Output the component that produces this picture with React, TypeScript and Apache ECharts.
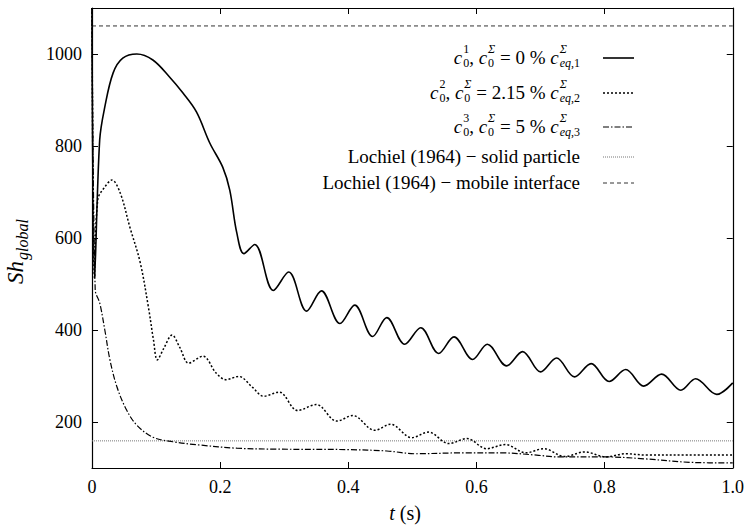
import React, { useEffect, useRef } from "react";
import * as echarts from "echarts";

const FONT = "'Liberation Serif', Tinos, 'Times New Roman', Times, 'Nimbus Roman', 'DejaVu Serif', serif";

// Series 1: c0^Σ = 0 %
const t1 = [0, 0.004, 0.012, 0.02, 0.033, 0.048, 0.07, 0.095, 0.121, 0.142, 0.163, 0.184, 0.204, 0.215, 0.226, 0.237, 0.254, 0.283, 0.307, 0.335, 0.358, 0.387, 0.41, 0.438, 0.46, 0.488, 0.513, 0.541, 0.565, 0.594, 0.617, 0.647, 0.672, 0.7, 0.725, 0.753, 0.779, 0.807, 0.833, 0.861, 0.889, 0.919, 0.942, 0.975, 1.0];
const sh1 = [1100, 513, 813, 885, 959, 991, 1000, 987, 950, 915, 874, 806, 754, 704, 611, 566, 586, 486, 526, 441, 485, 414, 454, 386, 427, 369, 405, 349, 385, 336, 369, 322, 353, 309, 339, 298, 327, 288, 314, 278, 304, 269, 294, 260, 285];

// Series 2: c0^Σ = 2.15 %
const t2 = [0, 0.004, 0.009, 0.02, 0.031, 0.044, 0.059, 0.075, 0.088, 0.096, 0.102, 0.112, 0.125, 0.137, 0.151, 0.173, 0.194, 0.209, 0.229, 0.25, 0.268, 0.292, 0.321, 0.35, 0.382, 0.407, 0.441, 0.466, 0.499, 0.525, 0.557, 0.585, 0.616, 0.645, 0.677, 0.705, 0.738, 0.769, 0.802, 0.833, 0.866, 0.93, 1.0];
const sh2 = [1100, 513, 683, 711, 726, 698, 624, 548, 450, 378, 335, 360, 389, 362, 328, 343, 306, 292, 299, 276, 256, 265, 225, 238, 202, 214, 182, 195, 166, 178, 153, 164, 142, 151, 133, 142, 125, 135, 124, 131, 128, 128, 128];

// Series 3: c0^Σ = 5 %
const t3 = [0, 0.005, 0.012, 0.02, 0.028, 0.039, 0.054, 0.07, 0.095, 0.126, 0.168, 0.226, 0.288, 0.399, 0.46, 0.505, 0.582, 0.638, 0.694, 0.727, 0.805, 0.861, 0.939, 1.0];
const sh3 = [1100, 487, 459, 400, 335, 276, 226, 193, 167, 157, 150, 143, 141, 140, 137, 131, 133, 133, 128, 124, 124, 120, 112, 111];

// Lochiel (1964) reference values
const shSolidParticle = 159;
const shMobileInterface = 1061;

const xTicks = [0, 0.2, 0.4, 0.6, 0.8, 1.0];
const yTicks = [200, 400, 600, 800, 1000];

const seriesNames = [
  "c0^1, c0^Σ = 0 % c^Σ_eq,1",
  "c0^2, c0^Σ = 2.15 % c^Σ_eq,2",
  "c0^3, c0^Σ = 5 % c^Σ_eq,3",
  "Lochiel (1964) − solid particle",
  "Lochiel (1964) − mobile interface",
];

const lineStyles: any[] = [
  { color: "#000", width: 1.6, type: "solid" },
  { color: "#000", width: 1.5, type: [2, 2] },
  { color: "#000", width: 1.2, type: [6, 2, 1.5, 2] },
  { color: "#777", width: 1, type: [1, 1] },
  { color: "#333", width: 1, type: [4, 3] },
];

type Part = { t: string; it?: boolean };
type Tok = Part | { sup: Part[]; sub: Part[] };
const N = (s: string): Part => ({ t: s });
const I = (s: string): Part => ({ t: s, it: true });

const legendEntries: Tok[][] = [
  [I("c"), { sup: [N("1")], sub: [N("0")] }, N(", "), I("c"), { sup: [I("Σ")], sub: [N("0")] }, N(" = 0 % "), I("c"), { sup: [I("Σ")], sub: [I("eq"), N(",1")] }],
  [I("c"), { sup: [N("2")], sub: [N("0")] }, N(", "), I("c"), { sup: [I("Σ")], sub: [N("0")] }, N(" = 2.15 % "), I("c"), { sup: [I("Σ")], sub: [I("eq"), N(",2")] }],
  [I("c"), { sup: [N("3")], sub: [N("0")] }, N(", "), I("c"), { sup: [I("Σ")], sub: [N("0")] }, N(" = 5 % "), I("c"), { sup: [I("Σ")], sub: [I("eq"), N(",3")] }],
  [N("Lochiel (1964) − solid particle")],
  [N("Lochiel (1964) − mobile interface")],
];

export default function App() {
  const ref = useRef<HTMLDivElement>(null);
  useEffect(() => {
    if (!ref.current) return;
    const chart = echarts.init(ref.current, null, { renderer: "svg" });

    const cv = document.createElement("canvas");
    const ctx = cv.getContext("2d")!;
    const measure = (s: string, size: number, it?: boolean) => {
      ctx.font = `${it ? "italic " : ""}${size}px ${FONT}`;
      return ctx.measureText(s).width;
    };
    const MAIN = 19;
    const SCR = 12;
    const TICK = 18;
    const textEl = (s: string, x: number, y: number, size: number, it?: boolean) => ({
      type: "text",
      x,
      y,
      style: {
        text: s,
        fontSize: size,
        fontFamily: FONT,
        fontStyle: it ? "italic" : "normal",
        fill: "#000",
        align: "left",
        verticalAlign: "middle",
      },
    });

    const rowY = [57, 92, 126, 156, 182];
    const textRight = 580;
    const sampleX1 = 603;
    const sampleX2 = 634;
    const graphics: any[] = [];
    legendEntries.forEach((entry, k) => {
      const widths = entry.map((tok: any) => {
        if (tok.sup) {
          const ws = tok.sup.reduce((a: number, p: Part) => a + measure(p.t, SCR, p.it), 0);
          const wb = tok.sub.reduce((a: number, p: Part) => a + measure(p.t, SCR, p.it), 0);
          return Math.max(ws, wb) + 1;
        }
        return measure(tok.t, MAIN, tok.it);
      });
      const total = widths.reduce((a, b) => a + b, 0);
      let x = textRight - total;
      const y = rowY[k];
      entry.forEach((tok: any, j) => {
        if (tok.sup) {
          let xs = x + 1;
          tok.sup.forEach((p: Part) => {
            graphics.push(textEl(p.t, xs, y - 8, SCR, p.it));
            xs += measure(p.t, SCR, p.it);
          });
          let xb = x + 1;
          tok.sub.forEach((p: Part) => {
            graphics.push(textEl(p.t, xb, y + 6, SCR, p.it));
            xb += measure(p.t, SCR, p.it);
          });
        } else {
          graphics.push(textEl(tok.t, x, y, MAIN, tok.it));
        }
        x += widths[j];
      });
      const ls = lineStyles[k];
      graphics.push({
        type: "line",
        shape: { x1: sampleX1, y1: y + 1, x2: sampleX2, y2: y + 1 },
        style: {
          stroke: ls.color,
          lineWidth: ls.width,
          lineDash: ls.type === "solid" ? null : ls.type,
        },
      });
    });

    // y-axis title: Sh_global (rotated)
    const wSh = measure("Sh", 23, true);
    graphics.push({
      type: "group",
      x: 15,
      y: 284,
      rotation: Math.PI / 2,
      children: [
        textEl("Sh", 0, 0, 23, true),
        textEl("global", wSh + 1, 7, 16, true),
      ],
    });
    // x-axis title: t (s)
    const wt = measure("t", 20, true);
    const wts = measure(" (s)", 20, false);
    const tx = 405 - (wt + wts) / 2;
    graphics.push(textEl("t", tx, 513, 20, true));
    graphics.push(textEl(" (s)", tx + wt, 513, 20, false));

    const mk = (ts: number[], vs: number[]) => ts.map((t, i) => [t, vs[i]]);
    const datas = [
      mk(t1, sh1),
      mk(t2, sh2),
      mk(t3, sh3),
      [[0, shSolidParticle], [1, shSolidParticle]],
      [[0, shMobileInterface], [1, shMobileInterface]],
    ];

    const axisCommon = {
      type: "value",
      axisLine: { show: true, onZero: false, lineStyle: { color: "#000", width: 1.2 } },
      axisTick: { show: true, inside: true, length: 6, lineStyle: { color: "#000", width: 1 } },
      splitLine: { show: false },
    };

    chart.setOption({
      animation: false,
      backgroundColor: "#fff",
      textStyle: { fontFamily: FONT },
      grid: { left: 92, right: 13, top: 8, bottom: 64, containLabel: false },
      xAxis: [
        {
          ...axisCommon,
          position: "bottom",
          min: 0,
          max: 1,
          interval: 0.2,
          axisLabel: {
            show: true,
            margin: 10,
            color: "#000",
            fontSize: TICK,
            fontFamily: FONT,
            customValues: xTicks,
            formatter: (v: number) => (v === 0 ? "0" : v.toFixed(1)),
          },
          axisTick: { ...axisCommon.axisTick, customValues: xTicks },
        },
        {
          ...axisCommon,
          position: "top",
          min: 0,
          max: 1,
          interval: 0.2,
          axisLabel: { show: false },
          axisTick: { ...axisCommon.axisTick, customValues: xTicks },
        },
      ],
      yAxis: [
        {
          ...axisCommon,
          position: "left",
          min: 100,
          max: 1100,
          interval: 100,
          axisLabel: {
            show: true,
            margin: 10,
            color: "#000",
            fontSize: TICK,
            fontFamily: FONT,
            customValues: yTicks,
            formatter: (v: number) => String(v),
          },
          axisTick: { ...axisCommon.axisTick, customValues: yTicks },
        },
        {
          ...axisCommon,
          position: "right",
          min: 100,
          max: 1100,
          interval: 100,
          axisLabel: { show: false },
          axisTick: { ...axisCommon.axisTick, customValues: yTicks },
        },
      ],
      series: datas.map((d, k) => ({
        name: seriesNames[k],
        type: "line",
        data: d,
        xAxisIndex: 0,
        yAxisIndex: 0,
        showSymbol: false,
        symbol: "none",
        smooth: k < 3 ? 0.35 : false,
        clip: true,
        lineStyle: lineStyles[k],
        z: 5 - k,
      })),
      graphic: graphics,
    });
    return () => chart.dispose();
  }, []);
  return <div ref={ref} style={{ width: 747, height: 532, position: "absolute", left: 0, top: 0 }} />;
}
